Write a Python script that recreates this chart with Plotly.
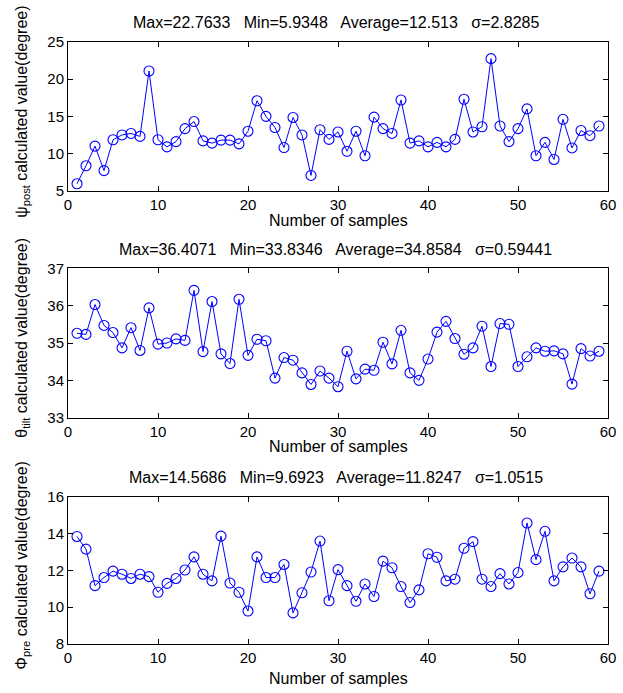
import plotly.graph_objects as go

samples = list(range(1, 60))

psi_post = [5.93, 8.35, 11.0, 7.7, 11.85, 12.5, 12.7, 12.3, 21.1, 11.85,
            10.9, 11.6, 13.35, 14.3, 11.7, 11.4, 11.8, 11.8, 11.3, 13.0,
            17.1, 15.0, 13.5, 10.8, 14.85, 12.5, 7.05, 13.2, 11.9, 12.9,
            10.3, 13.0, 9.7, 14.9, 13.35, 12.7, 17.2, 11.4, 11.7, 10.9,
            11.5, 10.9, 11.9, 17.3, 12.9, 13.6, 22.76, 13.7, 11.6, 13.35,
            16.0, 9.7, 11.5, 9.2, 14.6, 10.75, 13.1, 12.4, 13.7]

theta_tilt = [35.26, 35.23, 36.03, 35.47, 35.28, 34.87, 35.41, 34.8, 35.94, 34.97,
              35.0, 35.11, 35.07, 36.41, 34.77, 36.11, 34.71, 34.45, 36.17, 34.67,
              35.1, 35.06, 34.06, 34.61, 34.54, 34.2, 33.89, 34.25, 34.06, 33.83,
              34.78, 34.04, 34.3, 34.27, 35.02, 34.44, 35.34, 34.2, 34.0, 34.57,
              35.29, 35.58, 35.12, 34.7, 34.87, 35.45, 34.37, 35.52, 35.5, 34.37,
              34.63, 34.87, 34.78, 34.79, 34.71, 33.9, 34.85, 34.65, 34.78]

phi_pre = [13.84, 13.15, 11.17, 11.61, 11.96, 11.79, 11.56, 11.79, 11.66, 10.81,
           11.29, 11.56, 12.02, 12.73, 11.79, 11.43, 13.86, 11.31, 10.81, 9.79,
           12.73, 11.61, 11.61, 12.32, 9.69, 10.78, 11.91, 13.59, 10.35, 12.04,
           11.17, 10.32, 11.26, 10.58, 12.5, 12.14, 11.12, 10.25, 10.94, 12.9,
           12.71, 11.43, 11.52, 13.2, 13.56, 11.52, 11.12, 11.82, 11.26, 11.88,
           14.57, 12.58, 14.12, 11.43, 12.19, 12.67, 12.19, 10.73, 11.96]

titles = ["Max=22.7633   Min=5.9348   Average=12.513   \u03c3=2.8285",
          "Max=36.4071   Min=33.8346   Average=34.8584   \u03c3=0.59441",
          "Max=14.5686   Min=9.6923   Average=11.8247   \u03c3=1.0515"]
ylabels = ["\u03c8<sub>post</sub> calculated value(degree)",
           "\u03b8<sub>tilt</sub> calculated value(degree)",
           "\u03a6<sub>pre</sub> calculated value(degree)"]
xlabel = "Number of samples"
y_ranges = [[5, 25], [33, 37], [8, 16]]
y_dticks = [5, 1, 2]

series = [psi_post, theta_tilt, phi_pre]
domains = [[0.753, 1.0], [0.3759, 0.6241], [0.0, 0.2447]]
title_y = [1.0332, 0.6545, 0.2762]
xtitle_y = [0.7027, 0.3277, -0.0565]
ytitle_y = [0.8837, 0.5083, 0.1312]

FONT = "Liberation Sans, Arial, sans-serif"
fig = go.Figure()
for i, vals in enumerate(series):
    ax = "" if i == 0 else str(i + 1)
    fig.add_trace(go.Scatter(
        x=samples, y=vals, mode="lines+markers",
        line=dict(color="#0000ff", width=1),
        marker=dict(symbol="circle-open", size=10, color="#0000ff", line=dict(width=1.1)),
        xaxis="x" + ax, yaxis="y" + ax, showlegend=False))
    axis_common = dict(showline=True, linecolor="black", linewidth=1, mirror="ticks",
                       ticks="inside", ticklen=5, tickcolor="black", showgrid=False,
                       zeroline=False, ticklabeloverflow="allow",
                       tickfont=dict(size=15, color="black", family=FONT))
    fig.update_layout(**{
        "xaxis" + ax: dict(range=[0, 60], dtick=10, anchor="y" + ax, domain=[0, 1], **axis_common),
        "yaxis" + ax: dict(range=y_ranges[i], dtick=y_dticks[i], anchor="x" + ax,
                           domain=domains[i], **axis_common),
    })
    fig.add_annotation(text=titles[i], xref="paper", yref="paper", x=0.496, y=title_y[i],
                       showarrow=False, xanchor="center", yanchor="middle",
                       font=dict(size=16, color="black", family=FONT))
    fig.add_annotation(text=xlabel, xref="paper", yref="paper", x=0.5, y=xtitle_y[i],
                       showarrow=False, xanchor="center", yanchor="middle",
                       font=dict(size=16, color="black", family=FONT))
    fig.add_annotation(text=ylabels[i], xref="paper", yref="paper", x=-0.0858, y=ytitle_y[i],
                       showarrow=False, xanchor="center", yanchor="middle", textangle=-90,
                       font=dict(size=16, color="black", family=FONT))

fig.update_layout(width=623, height=693, margin=dict(l=68, r=7, t=42, b=49),
                  paper_bgcolor="white", plot_bgcolor="white",
                  font=dict(family=FONT, size=15, color="black"))
fig.write_html("out.html", config={"displayModeBar": False},
               post_script="document.body.style.margin='0px';document.body.style.padding='0px';"
                           "document.documentElement.style.overflow='hidden';")
